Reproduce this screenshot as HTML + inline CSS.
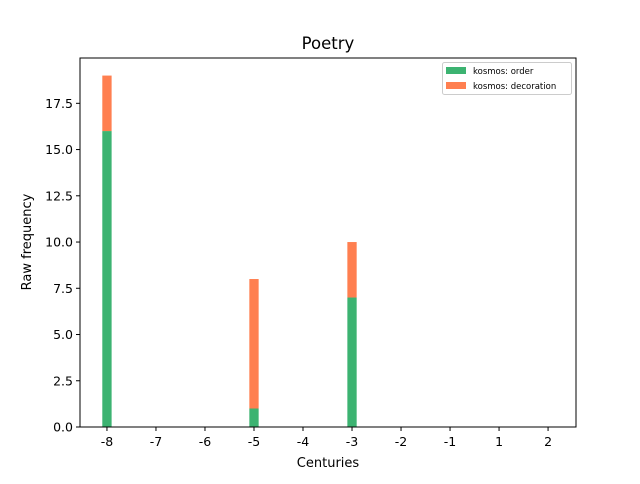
<!DOCTYPE html>
<html><head><meta charset="utf-8"><style>
body{margin:0;background:#fff;font-family:"DejaVu Sans","Liberation Sans",sans-serif}
</style></head><body>
<svg id="chart" width="640" height="480" xmlns="http://www.w3.org/2000/svg">
<rect width="640" height="480" fill="#fff"/>
<text x="328" y="49" text-anchor="middle" font-size="16.5">Poetry</text>
<g id="bars"></g>
<g id="axes"></g>
<text x="328" y="467" text-anchor="middle" font-size="13">Centuries</text>
<text transform="translate(31,242) rotate(-90)" text-anchor="middle" font-size="13">Raw frequency</text>
<g>
<rect x="442.5" y="62.5" width="129" height="32" fill="#fff" stroke="#ccc" rx="2"/>
<rect x="446" y="67" width="20" height="7" fill="#3cb371"/>
<text x="473" y="74" font-size="8.5">kosmos: order</text>
<rect x="446" y="82" width="20" height="7" fill="#ff7f50"/>
<text x="473" y="89" font-size="8.5">kosmos: decoration</text>
</g>
</svg>
<script>
const categories=[-8,-5,-3];
const orderValues=[16,1,7];
const decorationValues=[3,7,3];
const xTicks=[-8,-7,-6,-5,-4,-3,-2,-1,1,2];
const yTicks=[0,2.5,5,7.5,10,12.5,15,17.5];
const L=80,R=576,T=58,B=427,xmin=-0.55,xmax=9.57,ymax=19.95;
const xs=v=>L+(v-xmin)/(xmax-xmin)*(R-L);
const ys=v=>B-v/ymax*(B-T);
const NS="http://www.w3.org/2000/svg";
const bars=document.getElementById('bars'),axes=document.getElementById('axes');
function mk(tag,attrs,parent){const e=document.createElementNS(NS,tag);for(const k in attrs)e.setAttribute(k,attrs[k]);parent.appendChild(e);return e;}
const bw=0.19;
categories.forEach((c,i)=>{
 const idx=xTicks.indexOf(c);
 const x0=xs(idx-bw/2),w=xs(idx+bw/2)-x0;
 const g=mk('rect',{x:x0,y:ys(orderValues[i]),width:w,height:ys(0)-ys(orderValues[i]),fill:'#3cb371'},bars);
 
 
 const tot=orderValues[i]+decorationValues[i];
 const o=mk('rect',{x:x0,y:ys(tot),width:w,height:ys(orderValues[i])-ys(tot),fill:'#ff7f50'},bars);
 
 
});
const fr=mk('rect',{x:L,y:T,width:R-L,height:B-T,fill:'none',stroke:'#000','stroke-width':1},axes);


xTicks.forEach((t,i)=>{
 const x=xs(i);
 mk('line',{x1:x,x2:x,y1:B,y2:B+4,stroke:'#000'},axes);
 const tx=mk('text',{x:x,y:B+19,'text-anchor':'middle','font-size':12.5},axes);
 tx.textContent=String(t);
 
 
});
yTicks.forEach(t=>{
 const y=ys(t);
 mk('line',{x1:L-4,x2:L,y1:y,y2:y,stroke:'#000'},axes);
 const tx=mk('text',{x:L-7,y:y+4.5,'text-anchor':'end','font-size':12.5},axes);
 tx.textContent=t.toFixed(1);
 
 
});
</script>
</body></html>
